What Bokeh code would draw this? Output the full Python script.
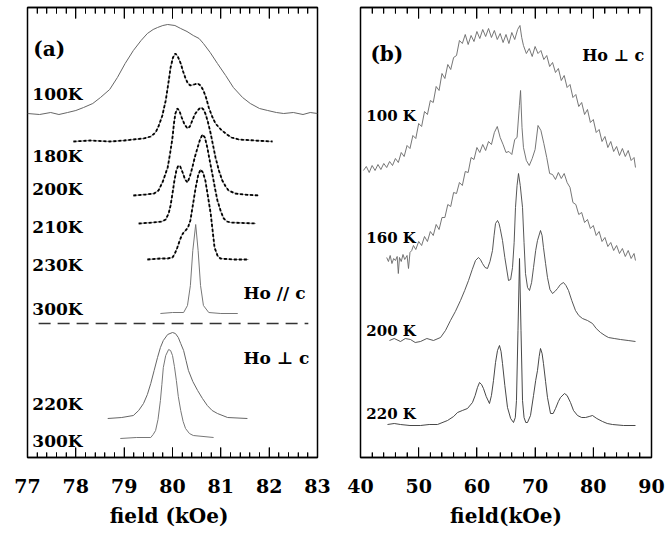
from bokeh.plotting import figure
from bokeh.layouts import row
from bokeh.models import Range1d, LinearAxis, SingleIntervalTicker, CustomJSTickFormatter
from bokeh.core.properties import value
from bokeh.embed import file_html
from bokeh.resources import INLINE

# ---------------- panel (a): field in kOe, intensities offset (arb. units) -------------
a_major_ticks = [78, 79, 80, 81, 82]
a_minor_ticks = [77.2, 77.4, 77.6, 77.8, 78.2, 78.4, 78.6, 78.8, 79.2, 79.4, 79.6, 79.8, 80.2, 80.4,
                 80.6, 80.8, 81.2, 81.4, 81.6, 81.8, 82.2, 82.4, 82.6, 82.8]

a_100K_x = [77.00, 77.25, 77.48, 77.65, 77.83, 78.00, 78.16, 78.35, 78.51, 78.70, 78.86, 79.02, 79.19,
            79.35, 79.48, 79.60, 79.69, 79.80, 79.90, 80.05, 80.17, 80.30, 80.43, 80.55, 80.64, 80.78,
            80.93, 81.10, 81.26, 81.45, 81.61, 81.80, 81.97, 82.15, 82.30, 82.50, 82.70, 82.85, 83.00]
a_100K_y = [344, 343, 345, 343, 345, 347, 350, 354, 360, 368, 380, 394, 407, 417, 424, 428, 430, 432,
            433, 432, 429, 426, 422, 419, 414, 405, 394, 382, 370, 360, 354, 349, 347, 345, 344, 345,
            343, 345, 344]

a_180K_x = [77.95, 78.30, 78.70, 79.00, 79.19, 79.40, 79.55, 79.65, 79.71, 79.79, 79.86, 79.92, 79.96,
            80.01, 80.06, 80.11, 80.17, 80.22, 80.27, 80.32, 80.37, 80.45, 80.52, 80.58, 80.64, 80.70,
            80.75, 80.82, 80.89, 81.00, 81.10, 81.22, 81.37, 81.70, 82.07]
a_180K_y = [316, 317, 316, 317, 318, 319, 321, 325, 331, 342, 357, 376, 390, 400, 404, 401, 394, 386,
            379, 374, 372, 373, 374, 372, 367, 359, 350, 341, 334, 328, 324, 320, 318, 317, 316]

a_200K_x = [79.19, 79.45, 79.62, 79.71, 79.80, 79.90, 79.95, 80.00, 80.03, 80.06, 80.10, 80.14, 80.19,
            80.25, 80.31, 80.36, 80.41, 80.46, 80.52, 80.56, 80.60, 80.64, 80.68, 80.73, 80.79, 80.84,
            80.89, 80.96, 81.03, 81.10, 81.16, 81.30, 81.47, 81.78]
a_200K_y = [262, 263, 264, 267, 276, 290, 304, 320, 334, 344, 349, 347, 340, 333, 329, 331, 337, 343,
            347, 349, 350, 348, 344, 336, 324, 312, 300, 287, 277, 271, 267, 264, 263, 262]

a_210K_x = [79.30, 79.60, 79.78, 79.86, 79.92, 79.96, 80.00, 80.04, 80.08, 80.12, 80.16, 80.21, 80.26,
            80.31, 80.36, 80.41, 80.46, 80.52, 80.57, 80.62, 80.67, 80.72, 80.77, 80.83, 80.88, 80.93,
            81.00, 81.06, 81.13, 81.20, 81.72]
a_210K_y = [234, 235, 236, 238, 244, 252, 264, 277, 287, 292, 291, 285, 278, 275, 281, 290, 300, 310,
            318, 323, 320, 310, 297, 282, 269, 257, 246, 239, 236, 235, 234]

a_230K_x = [79.48, 79.75, 79.90, 80.00, 80.05, 80.10, 80.15, 80.19, 80.23, 80.27, 80.32, 80.37, 80.42,
            80.48, 80.53, 80.58, 80.63, 80.68, 80.73, 80.79, 80.83, 80.87, 80.93, 80.99, 81.25, 81.57]
a_230K_y = [198, 199, 199, 200, 204, 210, 217, 222, 225, 227, 230, 237, 252, 270, 282, 288, 285, 277,
            262, 244, 227, 210, 202, 199, 198, 198]

a_300K_par_x = [79.75, 80.00, 80.23, 80.31, 80.37, 80.42, 80.48, 80.53, 80.58, 80.64, 80.75, 81.00, 81.35]
a_300K_par_y = [144, 145, 145, 152, 172, 207, 233, 207, 172, 152, 145, 144, 144]

a_sep_x = [77.23, 82.81]
a_sep_y = [134, 134]

a_220K_perp_x = [78.66, 78.95, 79.19, 79.30, 79.40, 79.48, 79.55, 79.62, 79.69, 79.75, 79.81, 79.90,
                 80.00, 80.06, 80.12, 80.17, 80.23, 80.28, 80.33, 80.42, 80.52, 80.62, 80.72, 80.82,
                 80.93, 81.14, 81.55]
a_220K_perp_y = [39, 40, 42, 47, 54, 63, 74, 87, 100, 110, 117, 123, 125, 124, 120, 114, 107, 97, 87,
                 76, 67, 59, 52, 47, 44, 40, 39]

a_300K_perp_x = [78.92, 79.25, 79.55, 79.60, 79.65, 79.70, 79.75, 79.78, 79.81, 79.86, 79.92, 79.96,
                 80.00, 80.04, 80.08, 80.12, 80.17, 80.22, 80.27, 80.35, 80.43, 80.85]
a_300K_perp_y = [19, 20, 20, 23, 27, 38, 57, 73, 90, 102, 108, 107, 102, 91, 77, 61, 47, 36, 29, 24,
                 22, 20]

a_labels = ["(a)", "100K", "180K", "200K", "210K", "230K", "300K", "Ho // c", "Ho \u22a5 c", "220K", "300K"]
a_label_x = [77.12, 77.10, 77.10, 77.10, 77.10, 77.10, 77.10, 81.47, 81.47, 77.10, 77.10]
a_label_y = [409, 364, 302, 269, 231, 193, 149, 165, 100, 54, 17]

# ---------------- panel (b) ----------------
b_major_ticks = [50, 60, 70, 80]
b_minor_ticks = [42, 44, 46, 48, 52, 54, 56, 58, 62, 64, 66, 68, 72, 74, 76, 78, 82, 84, 86, 88]

b_100K_x = [40.5, 41.0, 41.5, 42.0, 42.5, 43.0, 43.5, 44.0, 44.5, 45.0, 45.5, 46.0, 46.5, 47.0, 47.5,
            48.0, 48.5, 49.0, 49.5, 50.0, 50.5, 51.0, 51.5, 52.0, 52.5, 53.0, 53.5, 54.0, 54.5, 55.0,
            55.5, 56.0, 56.5, 57.0, 57.5, 58.0, 58.5, 59.0, 59.5, 60.0, 60.5, 61.0, 61.5, 62.0, 62.5,
            63.0, 63.5, 64.0, 64.5, 65.0, 65.5, 66.0, 66.5, 67.0, 67.4, 67.7, 68.0, 68.5, 69.0, 69.5,
            70.0, 70.5, 71.0, 71.5, 72.0, 72.5, 73.0, 73.5, 74.0, 74.5, 75.0, 75.5, 76.0, 76.5, 77.0,
            77.5, 78.0, 78.5, 79.0, 79.5, 80.0, 80.5, 81.0, 81.5, 82.0, 82.5, 83.0, 83.5, 84.0, 84.5,
            85.0, 85.5, 86.0, 86.5, 87.0, 87.25]
b_100K_y = [287, 291, 285, 292, 287, 293, 288, 294, 290, 296, 292, 299, 295, 305, 301,
            312, 309, 322, 319, 334, 331, 346, 343, 357, 355, 371, 367, 384, 379, 393,
            388, 400, 402, 417, 414, 423, 413, 422, 416, 426, 419, 428, 421, 429, 420,
            427, 418, 424, 415, 423, 414, 425, 418, 428, 432, 420, 412, 404, 409, 401,
            411, 404, 407, 398, 402, 391, 395, 385, 389, 377, 382, 370, 373, 360, 363,
            351, 355, 343, 348, 335, 338, 325, 328, 316, 321, 310, 316, 306, 311, 302,
            309, 301, 307, 297, 300, 290]

b_160K_x = [44.5, 44.8, 45.1, 45.4, 45.7, 46.0, 46.3, 46.5, 46.7, 47.0, 47.3, 47.6, 48.0, 48.25, 48.5,
            48.8, 49.1, 49.5, 50.0, 50.5, 51.0, 51.5, 52.0, 52.5, 53.0, 53.5, 54.0, 54.5, 55.0, 55.5,
            56.0, 56.5, 57.0, 57.5, 58.0, 58.5, 59.0, 59.5, 60.0, 60.5, 61.0, 61.5, 62.0, 62.5, 63.0,
            63.5, 64.0, 64.5, 65.0, 65.5, 66.0, 66.5, 66.9, 67.3, 67.5, 67.75, 68.0, 68.5, 69.0, 69.5,
            70.0, 70.5, 71.0, 71.5, 72.0, 72.5, 73.0, 73.5, 74.0, 74.5, 75.0, 75.5, 76.0, 76.5, 77.0,
            77.5, 78.0, 78.5, 79.0, 79.5, 80.0, 80.5, 81.0, 81.5, 82.0, 82.5, 83.0, 83.5, 84.0, 84.5,
            85.0, 85.5, 86.0, 86.5, 87.0, 87.25]
b_160K_y = [200, 196, 202, 194, 199, 197, 201, 184, 200, 196, 203, 198, 202, 189, 205,
            207, 212, 208, 216, 212, 221, 216, 226, 222, 233, 228, 240, 240, 253, 251,
            265, 264, 275, 272, 286, 285, 300, 298, 310, 305, 313, 307, 316, 313, 325,
            331, 320, 313, 305, 306, 303, 318, 320, 352, 367, 330, 310, 297, 292, 299,
            308, 332, 327, 314, 300, 284, 283, 278, 285, 279, 284, 275, 270, 255, 253,
            243, 245, 235, 238, 229, 232, 222, 226, 216, 220, 211, 215, 207, 212, 204,
            209, 201, 207, 199, 204, 197]

b_200K_x = [44.98, 45.8, 46.87, 47.7, 48.59, 49.4, 50.31, 51.4, 52.54, 53.75, 54.6, 55.46, 56.3, 57.18,
            57.9, 58.56, 59.2, 59.76, 60.27, 60.6, 60.96, 61.4, 61.82, 62.25, 62.68, 62.95, 63.20, 63.54,
            63.80, 64.00, 64.40, 64.80, 65.43, 65.80, 66.12, 66.40, 66.63, 66.90, 67.15, 67.45, 67.84,
            68.10, 68.35, 68.70, 69.04, 69.40, 69.73, 70.10, 70.41, 70.93, 71.20, 71.44, 71.80, 72.13,
            72.55, 72.99, 73.40, 73.85, 74.35, 74.88, 75.30, 75.74, 76.30, 76.94, 77.50, 78.14, 79.00,
            79.86, 80.50, 81.24, 82.00, 82.61, 83.60, 84.67, 86.00, 87.25]
b_200K_y = [117, 119, 116, 119, 118, 115, 116, 119, 117, 120, 127, 137, 146, 157,
            167, 177, 188, 197, 200, 198, 194, 190, 189, 196, 207, 222, 234, 237,
            234, 229, 217, 200, 177, 178, 190, 215, 250, 272, 284, 272, 250,
            215, 184, 170, 167, 175, 190, 207, 217, 227, 222, 210, 194, 180,
            168, 164, 166, 169, 173, 175, 172, 167, 157, 147, 142, 139, 137,
            134, 129, 125, 122, 120, 119, 118, 117, 116]

b_220K_x = [44.64, 45.8, 46.87, 48.5, 50.31, 51.8, 53.23, 54.95, 56.0, 56.67, 57.5, 58.38, 59.24,
            59.70, 60.10, 60.45, 60.80, 61.13, 61.60, 62.16, 62.50, 62.85, 63.20, 63.54, 63.88, 64.15,
            64.40, 64.80, 65.26, 65.80, 66.29, 66.60, 66.80, 67.06, 67.32, 67.58, 67.84, 68.10, 68.40,
            68.69, 69.21, 69.73, 70.10, 70.41, 70.70, 70.93, 71.20, 71.44, 71.80, 72.13, 72.65, 73.10,
            73.51, 74.00, 74.36, 75.05, 75.50, 76.08, 76.60, 77.29, 78.00, 78.66, 79.30, 79.86, 80.60,
            81.58, 82.40, 83.30, 85.20, 87.25]
b_220K_y = [33, 34, 33, 32, 32, 33, 33, 37, 41, 45, 47, 49, 55,
            62, 70, 75, 73, 69, 61, 54, 62, 77, 95, 107, 112, 106,
            94, 72, 50, 39, 35, 40, 57, 127, 199, 127, 57, 40, 35,
            35, 42, 62, 77, 87, 101, 109, 104, 94, 76, 60, 44, 44,
            49, 56, 60, 64, 62, 55, 47, 42, 40, 40, 41, 42, 39,
            36, 34, 33, 32, 32]

b_labels = ["(b)", "Ho \u22a5 c", "100 K", "160 K", "200 K", "220 K"]
b_label_x = [41.7, 78.1, 41.0, 41.0, 41.0, 41.0]
b_label_y = [404, 402, 342, 220, 127, 44]

SERIF = value("DejaVu Serif")
Y_TOP = 450


def make_panel(xr, interval, left, right, width, label, majors, minors):
    p = figure(width=width, height=534, x_range=Range1d(*xr), y_range=Range1d(0, Y_TOP),
               output_backend="svg", toolbar_location=None, y_axis_location=None,
               x_axis_location=None,
               min_border_left=left, min_border_right=right, min_border_top=7,
               min_border_bottom=77, background_fill_color="white",
               border_fill_color="white")
    p.outline_line_color = "black"
    p.outline_line_width = 1.5
    p.xgrid.grid_line_alpha = 0
    p.ygrid.grid_line_alpha = 0
    ax = LinearAxis(ticker=SingleIntervalTicker(interval=interval, num_minor_ticks=5),
                    axis_label=label,
                    major_tick_in=10, major_tick_out=0, minor_tick_in=5, minor_tick_out=0,
                    major_tick_line_color="black", minor_tick_line_color="black",
                    axis_line_color="black", axis_line_width=1.5,
                    major_label_text_font="DejaVu Serif", major_label_text_font_style="bold",
                    major_label_text_font_size="19px", major_label_text_color="black",
                    major_label_standoff=21,
                    axis_label_text_font="DejaVu Serif", axis_label_text_font_style="bold",
                    axis_label_text_font_size="20px", axis_label_text_color="black",
                    axis_label_standoff=8)
    p.add_layout(ax, "below")
    top = LinearAxis(ticker=SingleIntervalTicker(interval=interval, num_minor_ticks=5),
                     major_tick_in=11, major_tick_out=0, minor_tick_in=6, minor_tick_out=0,
                     major_tick_line_color="black", minor_tick_line_color="black",
                     formatter=CustomJSTickFormatter(code="return ''"),
                     major_label_standoff=0, axis_line_width=1.5)
    p.add_layout(top, "above")
    # inward tick marks along the frame edges, at the axis tick positions
    # (the y scale is one unit per screen pixel, so lengths are in pixels)
    p.segment(x0=majors, y0=[0] * len(majors), x1=majors, y1=[10] * len(majors),
              line_color="black", line_width=1)
    p.segment(x0=minors, y0=[0] * len(minors), x1=minors, y1=[5] * len(minors),
              line_color="black", line_width=1)
    p.segment(x0=majors, y0=[Y_TOP] * len(majors), x1=majors, y1=[Y_TOP - 11] * len(majors),
              line_color="black", line_width=1)
    p.segment(x0=minors, y0=[Y_TOP] * len(minors), x1=minors, y1=[Y_TOP - 6] * len(minors),
              line_color="black", line_width=1)
    return p


pa = make_panel((77, 83), 1, 27, 16, 333, "field  (kOe)", a_major_ticks, a_minor_ticks)

pa.line(a_100K_x, a_100K_y, line_color="#666666", line_width=1)
for xs, ys in [(a_180K_x, a_180K_y), (a_200K_x, a_200K_y), (a_210K_x, a_210K_y), (a_230K_x, a_230K_y)]:
    pa.line(xs, ys, line_color="#888888", line_width=1)
    pa.line(xs, ys, line_color="black", line_width=1.8, line_dash="3 2")
pa.line(a_300K_par_x, a_300K_par_y, line_color="#777777", line_width=1)
pa.line(a_sep_x, a_sep_y, line_color="#333333", line_width=1.3, line_dash="12 7")
pa.line(a_220K_perp_x, a_220K_perp_y, line_color="#666666", line_width=1)
pa.line(a_300K_perp_x, a_300K_perp_y, line_color="#777777", line_width=1)

pa.text(a_label_x[:1], a_label_y[:1], text=a_labels[:1], text_font=SERIF, text_font_style="bold",
        text_font_size="20px", text_baseline="middle", text_align="left", text_color="black")
pa.text(a_label_x[1:], a_label_y[1:], text=a_labels[1:], text_font=SERIF, text_font_style="bold",
        text_font_size="17px", text_baseline="middle", text_align="left", text_color="black")

pb = make_panel((40, 90), 10, 27, 14, 332, "field(kOe)", b_major_ticks, b_minor_ticks)

pb.line(b_100K_x, b_100K_y, line_color="#666666", line_width=0.9)
pb.line(b_160K_x, b_160K_y, line_color="#666666", line_width=0.9)
pb.line(b_200K_x, b_200K_y, line_color="#444444", line_width=0.9)
pb.line(b_220K_x, b_220K_y, line_color="#333333", line_width=0.9)

pb.text(b_label_x[:1], b_label_y[:1], text=b_labels[:1], text_font=SERIF, text_font_style="bold",
        text_font_size="20px", text_baseline="middle", text_align="left", text_color="black")
pb.text(b_label_x[1:2], b_label_y[1:2], text=b_labels[1:2], text_font=SERIF, text_font_style="bold",
        text_font_size="16px", text_baseline="middle", text_align="left", text_color="black")
pb.text(b_label_x[2:], b_label_y[2:], text=b_labels[2:], text_font=SERIF, text_font_style="bold",
        text_font_size="15px", text_baseline="middle", text_align="left", text_color="black")

layout = row(pa, pb)
open("out.html", "w").write(file_html(layout, INLINE))
